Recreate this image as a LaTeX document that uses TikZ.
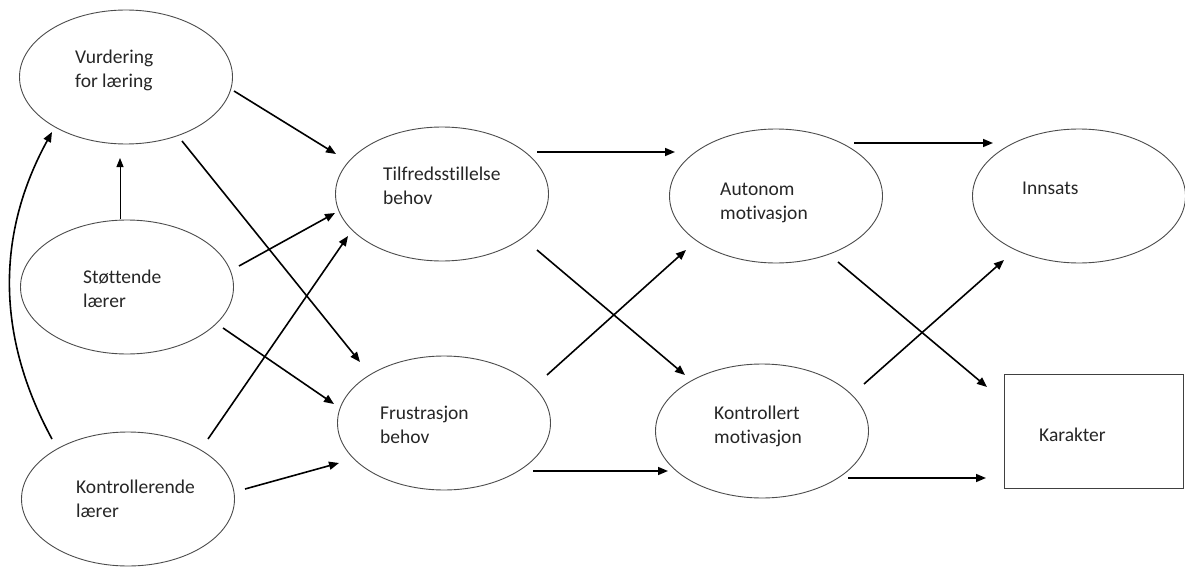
\documentclass[tikz,border=0pt]{standalone}
\usepackage{fontspec}
\setmainfont{Carlito}[Ligatures={NoCommon,NoContextual}]
\usetikzlibrary{arrows.meta,calc,shapes.geometric}
\begin{document}
\begin{tikzpicture}[x=1pt,y=-1pt,
  ell/.style={draw=black!70,line width=0.9pt,ellipse,inner sep=0pt,minimum width=213pt,minimum height=134pt},
  box/.style={draw=black!75,line width=0.9pt,rectangle,inner sep=0pt,minimum width=179pt,minimum height=114pt},
  txt/.style={anchor=base west,inner sep=0pt,text=black!85,font=\fontsize{19.5}{23.5}\selectfont},
  arr/.style={line width=1.6pt,-{Triangle[length=10pt,width=8pt]}},
  thinarr/.style={line width=0.9pt,-{Triangle[length=9pt,width=7pt]}}]
\useasboundingbox (0,0) rectangle (1185,567);
\fill[white] (0,0) rectangle (1185,567);
% nodes
\node[ell] (V) at (126,77) {};
\node[ell] (S) at (127,287) {};
\node[ell] (K) at (128,499) {};
\node[ell] (T) at (442,194) {};
\node[ell] (F) at (444,423) {};
\node[ell] (A) at (776,196) {};
\node[ell] (KM) at (762,431) {};
\node[ell] (I) at (1079,196) {};
\node[box] (Kar) at (1093.5,431) {};
% texts
\node[txt] (V1) at (75,64) {Vurdering};
\node[txt] (V2) at (75,88) {for læring};
\node[txt] (S1) at (83,283) {Støttende};
\node[txt] (S2) at (83,307) {lærer};
\node[txt] (K1) at (76,493) {Kontrollerende};
\node[txt] (K2) at (76,517) {lærer};
\node[txt] (T1) at (383,180) {Tilfredsstillelse};
\node[txt] (T2) at (383,204) {behov};
\node[txt] (F1) at (380,419) {Frustrasjon};
\node[txt] (F2) at (380,443) {behov};
\node[txt] (A1) at (720,195) {Autonom};
\node[txt] (A2) at (720,219) {motivasjon};
\node[txt] (KM1) at (714,419) {Kontrollert};
\node[txt] (KM2) at (714,443) {motivasjon};
\node[txt] (I1) at (1022,194) {Innsats};
\node[txt] (Kar1) at (1039,441) {Karakter};
% connectors
\draw[arr] ($(V)+(108,14)$) -- ($(T)+(-106,-40)$);
\draw[arr] ($(V)+(56,64)$) -- ($(F)+(-84,-61)$);
\draw[thinarr] ($(S)+(-7,-68)$) -- ($(V)+(-6,81)$);
\draw[arr] ($(K)+(-76,-60)$) .. controls +(-56,-103) and +(-56,102) .. ($(V)+(-74,55)$);
\draw[arr] ($(S)+(112,-21)$) -- ($(T)+(-107,19)$);
\draw[arr] ($(K)+(80,-60)$) -- ($(T)+(-94,42)$);
\draw[arr] ($(S)+(96,41)$) -- ($(F)+(-110,-19)$);
\draw[arr] ($(K)+(117,-10)$) -- ($(F)+(-105,40)$);
\draw[arr] ($(T)+(95,-42)$) -- ($(A)+(-101,-44)$);
\draw[arr] ($(T)+(95,56)$) -- ($(KM)+(-77,-56)$);
\draw[arr] ($(F)+(103,-48)$) -- ($(A)+(-90,54)$);
\draw[arr] ($(F)+(89,48)$) -- ($(KM)+(-94,40)$);
\draw[arr] ($(A)+(78,-53)$) -- ($(I)+(-86,-53)$);
\draw[arr] ($(A)+(62,66)$) -- ($(Kar)+(-106.5,-44)$);
\draw[arr] ($(KM)+(102,-47)$) -- ($(I)+(-75,64)$);
\draw[arr] ($(KM)+(86,47)$) -- ($(Kar)+(-107.5,47)$);
\end{tikzpicture}
\end{document}
